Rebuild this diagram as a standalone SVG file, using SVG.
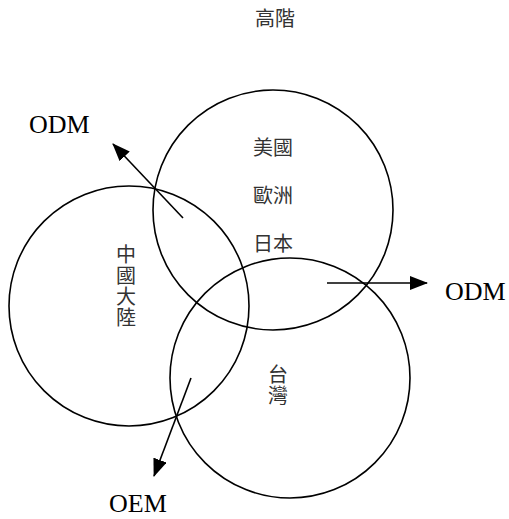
<svg xmlns="http://www.w3.org/2000/svg" width="509" height="519" viewBox="0 0 509 519">
<style>
.c{fill:none;stroke:#000;stroke-width:1.6}
.a{fill:none;stroke:#000;stroke-width:1.6}
.cjk{font-family:"Liberation Sans","Noto Sans CJK TC",sans-serif;font-size:20px;fill:#333}
.lat{font-family:"Liberation Serif",serif;font-size:26px;fill:#000}
</style>
<defs>
<marker id="ah" markerUnits="userSpaceOnUse" viewBox="0 0 18 14" refX="17" refY="7" markerWidth="18" markerHeight="14" orient="auto">
<path d="M0,0 L18,7 L0,14 z" fill="#000"/>
</marker>
</defs>
<rect width="509" height="519" fill="#fff"/>
<g id="title"><text class="cjk" x="255" y="26">高階</text></g>
<g id="node-west">
<circle class="c" cx="273" cy="210" r="120"/>
<text class="cjk" x="253" y="155">美國</text>
<text class="cjk" x="253" y="203">歐洲</text>
<text class="cjk" x="253" y="251">日本</text>
</g>
<g id="node-china">
<circle class="c" cx="129" cy="306" r="120"/>
<text class="cjk" x="116" y="262">中</text>
<text class="cjk" x="116" y="283">國</text>
<text class="cjk" x="116" y="304">大</text>
<text class="cjk" x="116" y="325">陸</text>
</g>
<g id="node-taiwan">
<circle class="c" cx="290" cy="378" r="120"/>
<text class="cjk" x="268" y="382">台</text>
<text class="cjk" x="268" y="403">灣</text>
</g>
<g id="connectors">
<line class="a" x1="183" y1="218" x2="113" y2="144" marker-end="url(#ah)"/>
<line class="a" x1="327" y1="283" x2="427" y2="283" marker-end="url(#ah)"/>
<line class="a" x1="191" y1="378" x2="154" y2="476" marker-end="url(#ah)"/>
</g>
<g id="labels">
<text class="lat" x="29" y="133">ODM</text>
<text class="lat" x="445" y="300">ODM</text>
<text class="lat" x="109" y="512">OEM</text>
</g>
</svg>
